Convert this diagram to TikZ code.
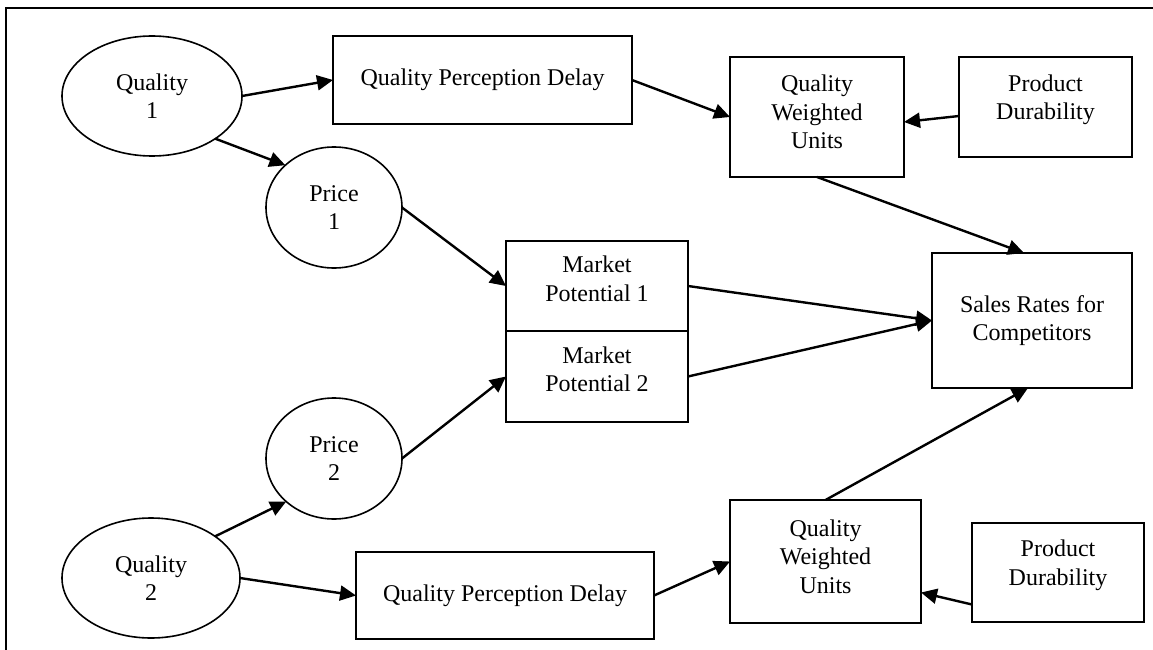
\documentclass[tikz,border=0pt]{standalone}
\usepackage{fontspec}
\setmainfont{Liberation Serif}
\usetikzlibrary{arrows.meta,shapes.geometric}
\tikzset{
  every node/.style={font=\fontsize{24}{28.5}\selectfont, align=center, outer sep=0pt, inner sep=0pt},
  box/.style={draw, line width=1.6pt, rectangle},
  oval/.style={draw, line width=1.6pt, ellipse},
  conn/.style={line width=2.4pt, -{Triangle[length=16pt,width=15pt]}},
  lift/.style={text depth=#1},
}
\begin{document}
\begin{tikzpicture}[x=1pt,y=-1pt]
\useasboundingbox (0,0) rectangle (1153,650);
\coordinate (fbl) at (6,660);
\coordinate (ftl) at (6,8);
\coordinate (ftr) at (1160,8);
\draw[line width=2pt] (fbl) -- (ftl) -- (ftr);

\node[oval, minimum width=180pt, minimum height=120pt] (q1) at (152,96) {Quality\\1};
\node[oval, minimum width=136pt, minimum height=121pt] (p1) at (334,207.5) {Price\\1};
\node[oval, minimum width=136pt, minimum height=121pt] (p2) at (334,458.5) {Price\\2};
\node[oval, minimum width=178pt, minimum height=120pt] (q2) at (151,578) {Quality\\2};

\node[box, minimum width=299pt, minimum height=88pt] (qpd1) at (482.5,80) {Quality Perception Delay};
\node[box, lift=10pt, minimum width=174pt, minimum height=120pt] (qwu1) at (817,117) {Quality\\Weighted\\Units};
\node[box, lift=20pt, minimum width=173pt, minimum height=100pt] (pd1) at (1045.5,107) {Product\\Durability};
\node[box, minimum width=200pt, minimum height=135pt] (sales) at (1032,320.5) {Sales Rates for\\Competitors};
\node[box, lift=15pt, minimum width=182pt, minimum height=90pt] (m1) at (597,286) {Market\\Potential 1};
\node[box, lift=15pt, minimum width=182pt, minimum height=91pt] (m2) at (597,376.5) {Market\\Potential 2};
\node[box, lift=10pt, minimum width=191pt, minimum height=123pt] (qwu2) at (825.5,561.5) {Quality\\Weighted\\Units};
\node[box, lift=20pt, minimum width=172pt, minimum height=99pt] (pd2) at (1058,572.5) {Product\\Durability};
\node[box, minimum width=298pt, minimum height=87pt] (qpd2) at (505,595.5) {Quality Perception Delay};

\draw[conn] (q1.east) -- (qpd1.west);
\draw[conn] (q1.-34) -- (p1.139);
\draw[conn] (p1.east) -- (m1.west);
\draw[conn] (p2.east) -- (m2.west);
\draw[conn] (q2.33) -- (p2.-138);
\draw[conn] (q2.east) -- (qpd2.west);
\draw[conn] (qpd1.east) -- (qwu1.west);
\draw[conn] ([yshift=-9pt]pd1.west) -- ([yshift=-5pt]qwu1.east);
\draw[conn] (qwu1.south) -- ([xshift=-8pt]sales.north);
\draw[conn] (m1.east) -- (sales.west);
\draw[conn] (m2.east) -- (sales.west);
\draw[conn] (qpd2.east) -- (qwu2.west);
\draw[conn] ([yshift=-32pt]pd2.west) -- ([yshift=-31pt]qwu2.east);
\draw[conn] (qwu2.north) -- ([xshift=-4pt]sales.south);
\end{tikzpicture}
\end{document}
